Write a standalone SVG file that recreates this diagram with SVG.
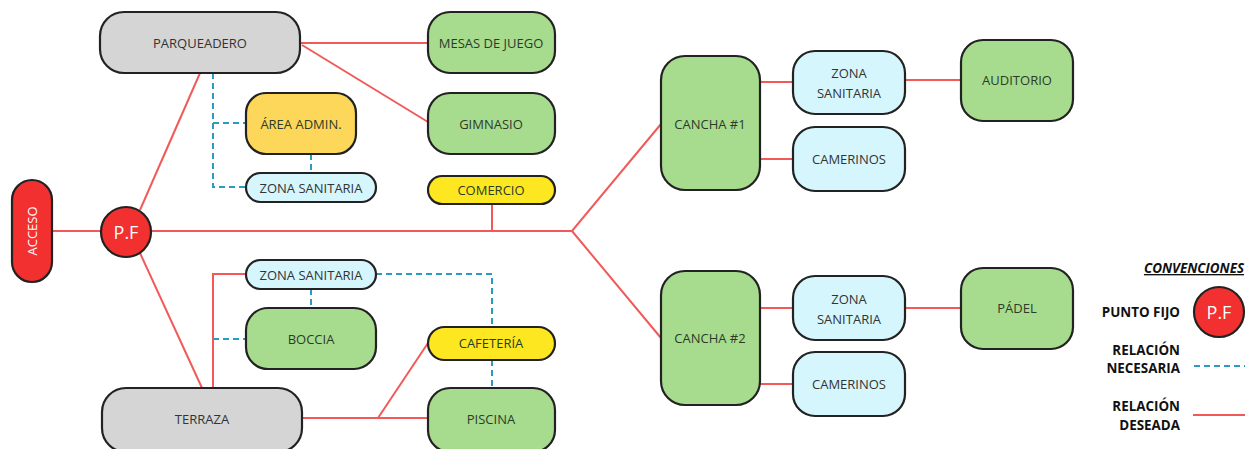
<svg xmlns="http://www.w3.org/2000/svg" width="1254" height="449" viewBox="0 0 1254 449">
<style>
.n{stroke:#222;stroke-width:2.2}
.gray{fill:#d5d5d5}
.green{fill:#a7db8e}
.blue{fill:#d6f6fd}
.yel{fill:#fde720}
.gold{fill:#fcd75a}
.red{fill:#f23030}
.t{font-family:"Open Sans","Noto Sans","Liberation Sans",sans-serif;font-size:13px;fill:#333;text-anchor:middle;dominant-baseline:central}
.tg{fill:#2c3b28}
.w{fill:#fff}
.des{stroke:#f25a5a;stroke-width:2;fill:none}
.nec{stroke:#2a9cc0;stroke-width:2;fill:none;stroke-dasharray:6 4}
.lg{font-family:"Open Sans","Noto Sans","Liberation Sans",sans-serif;font-size:13.4px;font-weight:bold;fill:#111;text-anchor:end}
</style>
<rect width="1254" height="449" fill="#fff"/>
<g id="connectors">
<path class="des" d="M52 231H101M151 231H572L661 124M572 231L661 338M492 204V231"/>
<path class="des" d="M200 73L140 210"/>
<path class="des" d="M300 43H428M302 45L428 122"/>
<path class="des" d="M140 253L202 388M213 388V274H246"/>
<path class="des" d="M302 418H428M378 418L428 343"/>
<path class="des" d="M760 82H793M905 80H961M760 159H793M760 308H793M905 308H961M760 384H793"/>
<path class="nec" d="M213 73V187H246M213 123H246M311 154V173"/>
<path class="nec" d="M213 339H246M311 289V308M376 274H492V327M492 360V388"/>
</g>
<g id="acceso"><rect class="n red" x="12" y="180" width="40" height="102" rx="20"/><text class="t w" transform="translate(32 231) rotate(-90)" font-size="12">ACCESO</text></g>
<g id="pf"><circle class="n red" cx="126" cy="232" r="25"/><text class="t w" x="126" y="232" style="font-size:18px">P.F</text></g>
<g id="parqueadero"><rect class="n gray" x="100" y="12" width="200" height="61" rx="24"/><text class="t" x="200" y="43">PARQUEADERO</text></g>
<g id="area-admin"><rect class="n gold" x="246" y="93" width="110" height="61" rx="20"/><text class="t tg" x="301" y="124">ÁREA ADMIN.</text></g>
<g id="zona-sanitaria-1"><rect class="n blue" x="246" y="173" width="130" height="29" rx="14.5"/><text class="t" x="311" y="188">ZONA SANITARIA</text></g>
<g id="mesas"><rect class="n green" x="428" y="12" width="127" height="61" rx="22"/><text class="t tg" x="491" y="43">MESAS DE JUEGO</text></g>
<g id="gimnasio"><rect class="n green" x="428" y="93" width="127" height="61" rx="22"/><text class="t tg" x="491" y="124">GIMNASIO</text></g>
<g id="comercio"><rect class="n yel" x="428" y="176" width="127" height="28" rx="14"/><text class="t tg" x="491" y="190">COMERCIO</text></g>
<g id="zona-sanitaria-2"><rect class="n blue" x="246" y="260" width="130" height="29" rx="14.5"/><text class="t" x="311" y="275">ZONA SANITARIA</text></g>
<g id="boccia"><rect class="n green" x="246" y="308" width="130" height="61" rx="22"/><text class="t tg" x="311" y="339">BOCCIA</text></g>
<g id="terraza"><rect class="n gray" x="102" y="388" width="200" height="64" rx="24"/><text class="t" x="202" y="419">TERRAZA</text></g>
<g id="cafeteria"><rect class="n yel" x="428" y="327" width="127" height="33" rx="16.5"/><text class="t tg" x="491" y="343">CAFETERÍA</text></g>
<g id="piscina"><rect class="n green" x="428" y="388" width="127" height="64" rx="22"/><text class="t tg" x="491" y="419">PISCINA</text></g>
<g id="cancha1"><rect class="n green" x="661" y="56" width="99" height="134" rx="24"/><text class="t tg" x="710" y="124">CANCHA #1</text></g>
<g id="cancha2"><rect class="n green" x="661" y="271" width="99" height="134" rx="24"/><text class="t tg" x="710" y="338">CANCHA #2</text></g>
<g id="zona-sanitaria-3"><rect class="n blue" x="793" y="51" width="112" height="63" rx="22"/><text class="t" x="849" y="73">ZONA</text><text class="t" x="849" y="93">SANITARIA</text></g>
<g id="camerinos-1"><rect class="n blue" x="793" y="127" width="112" height="64" rx="22"/><text class="t" x="849" y="159">CAMERINOS</text></g>
<g id="auditorio"><rect class="n green" x="961" y="40" width="112" height="81" rx="22"/><text class="t tg" x="1017" y="80">AUDITORIO</text></g>
<g id="zona-sanitaria-4"><rect class="n blue" x="793" y="276" width="112" height="64" rx="22"/><text class="t" x="849" y="299">ZONA</text><text class="t" x="849" y="319">SANITARIA</text></g>
<g id="camerinos-2"><rect class="n blue" x="793" y="352" width="112" height="64" rx="22"/><text class="t" x="849" y="384">CAMERINOS</text></g>
<g id="padel"><rect class="n green" x="961" y="268" width="112" height="81" rx="22"/><text class="t tg" x="1017" y="308">PÁDEL</text></g>
<g id="legend">
<text class="lg" x="1244" y="273" font-style="italic" text-decoration="underline">CONVENCIONES</text>
<text class="lg" x="1180" y="317">PUNTO FIJO</text>
<circle class="n red" cx="1219" cy="312" r="25"/><text class="t w" x="1219" y="312" style="font-size:18px">P.F</text>
<text class="lg" x="1180" y="355">RELACIÓN</text>
<text class="lg" x="1180" y="373">NECESARIA</text>
<path class="nec" d="M1194 366H1245" stroke-dasharray="5 3"/>
<text class="lg" x="1180" y="411">RELACIÓN</text>
<text class="lg" x="1180" y="430">DESEADA</text>
<path class="des" d="M1193 415H1245"/>
</g>
</svg>
